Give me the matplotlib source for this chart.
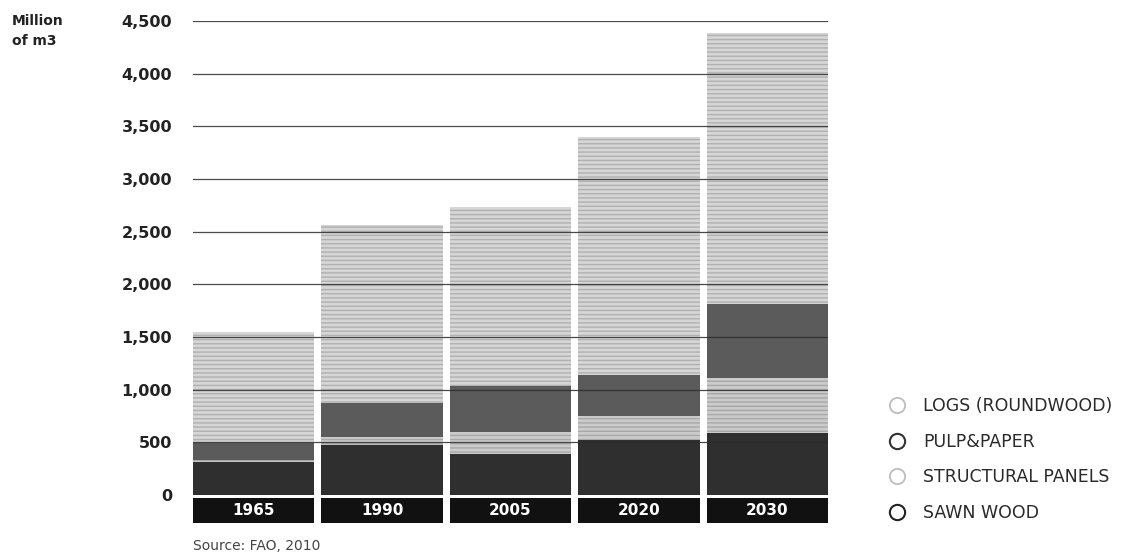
import matplotlib
matplotlib.use("Agg")
import matplotlib.pyplot as plt
from matplotlib.lines import Line2D
import numpy as np

# Global wood products consumption, million m3
years = ["1965", "1990", "2005", "2020", "2030"]
sawn_wood = [310, 470, 390, 520, 585]
structural_panels = [20, 85, 205, 230, 530]
pulp_paper = [160, 315, 435, 385, 700]
logs_roundwood = [1060, 1690, 1700, 2265, 2575]

series_labels = ["LOGS (ROUNDWOOD)", "PULP&PAPER", "STRUCTURAL PANELS", "SAWN WOOD"]
y_ticks = [0, 500, 1000, 1500, 2000, 2500, 3000, 3500, 4000, 4500]

plt.rcParams["font.family"] = ["DejaVu Sans"]

W, H = 1123, 557
fig = plt.figure(figsize=(W / 100, H / 100), dpi=100)
ax = fig.add_axes([193 / W, 1 - 525 / H, (828 - 193) / W, (525 - 21) / H])

x = np.arange(len(years))
bw = 0.943

c_sawn = "#2f2f2f"
c_panels = "#cbcbcb"
c_pulp = "#5b5b5b"
c_logs = "#d6d6d6"

bottom = np.zeros(len(years))
for vals, col, hatch, hcol in [
    (sawn_wood, c_sawn, None, None),
    (structural_panels, c_panels, "----", "#a8a8a8"),
    (pulp_paper, c_pulp, None, None),
    (logs_roundwood, c_logs, "----", "#b0b0b0"),
]:
    vals = np.array(vals, dtype=float)
    if hatch:
        ax.bar(x, vals, bw, bottom=bottom, color=col, edgecolor=hcol,
               linewidth=0, hatch=hatch, zorder=2)
    else:
        ax.bar(x, vals, bw, bottom=bottom, color=col, linewidth=0, zorder=2)
    bottom += vals

# horizontal guide lines over the bars
for t in y_ticks[1:]:
    ax.axhline(t, color="#2b2b2b", lw=0.9, zorder=3, alpha=0.85)

# black year tabs below the baseline
ax.bar(x, -245, bw, bottom=-25, color="#111111", linewidth=0, zorder=2)
for xi, yr in zip(x, years):
    ax.text(xi, -148, yr, color="white", fontsize=11, fontweight="bold",
            ha="center", va="center", zorder=4)

ax.set_xlim(-bw / 2, len(years) - 1 + bw / 2)
ax.set_ylim(-285, 4500)
ax.set_yticks(y_ticks)
ax.set_yticklabels([f"{t:,}" for t in y_ticks], fontsize=11.5,
                   fontweight="semibold", color="#222222")
ax.tick_params(axis="y", length=0, pad=15)
ax.set_xticks([])
for s in ax.spines.values():
    s.set_visible(False)

fig.text(12 / W, 1 - 31 / H, "Million\nof m3", fontsize=10, fontweight="semibold",
         color="#222222", ha="left", va="center", linespacing=1.6)

fig.text(193 / W, 1 - 546 / H, "Source: FAO, 2010", fontsize=10,
         color="#444444", ha="left", va="center")

# legend
handles = [
    Line2D([], [], marker="o", ls="none", ms=11, mfc="white", mec="#bdbdbd", mew=1.3),
    Line2D([], [], marker="o", ls="none", ms=11, mfc="white", mec="#333333", mew=1.5),
    Line2D([], [], marker="o", ls="none", ms=11, mfc="white", mec="#bdbdbd", mew=1.3),
    Line2D([], [], marker="o", ls="none", ms=11, mfc="white", mec="#222222", mew=1.5),
]
leg = fig.legend(handles, series_labels, loc="upper left",
                 bbox_to_anchor=(886.5 / W, 1 - 397 / H), frameon=False,
                 fontsize=12.5, labelspacing=1.02, handletextpad=0.9,
                 handlelength=1.2, borderaxespad=0, borderpad=0)
for t in leg.get_texts():
    t.set_color("#2a2a2a")

fig.savefig("out.png", dpi=100)
